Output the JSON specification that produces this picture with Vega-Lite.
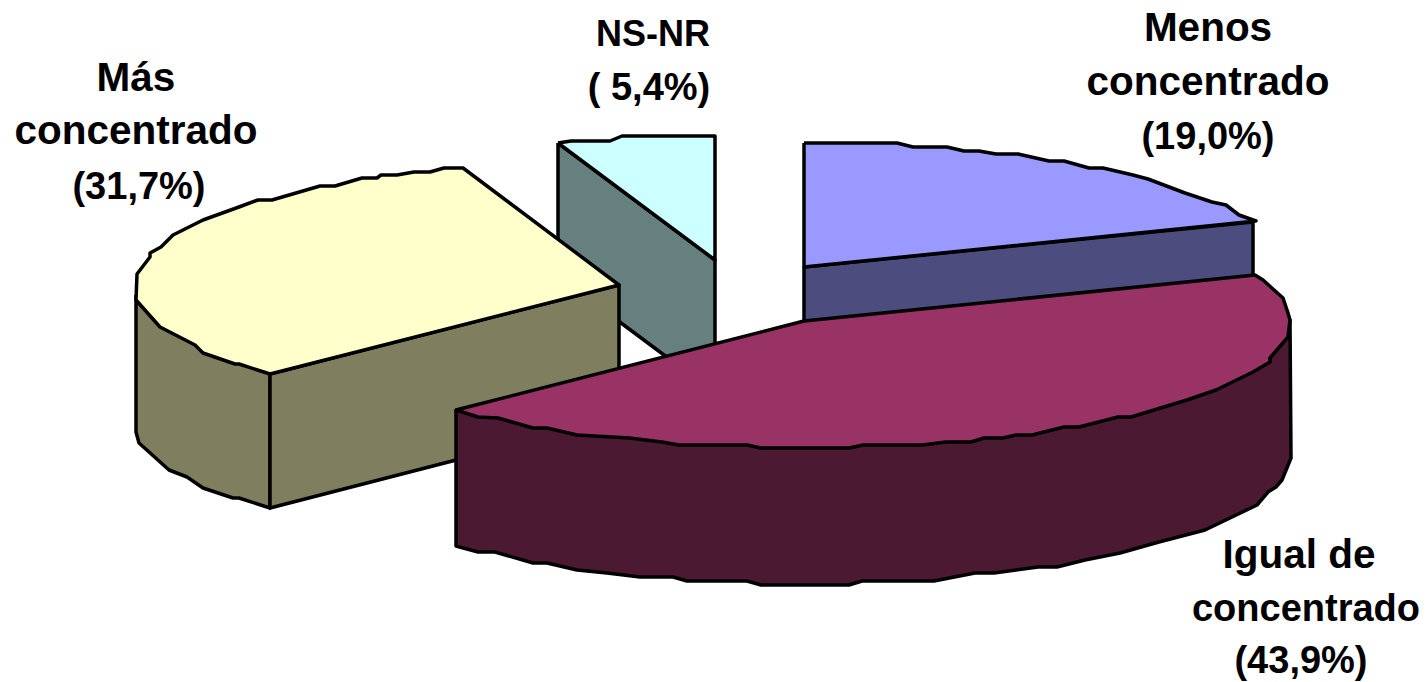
{"$schema":"https://vega.github.io/schema/vega-lite/v6.json","width":1426,"height":682,"autosize":{"type":"fit","contains":"padding"},"padding":0,"background":"white","view":{"stroke":null},
"datasets":{"outline":[
{"part":"NS-NR lado","n":1,"x":558,"y":143},{"part":"NS-NR lado","n":2,"x":715,"y":260},{"part":"NS-NR lado","n":3,"x":715,"y":393},{"part":"NS-NR lado","n":4,"x":558,"y":276},{"part":"NS-NR lado","n":5,"x":558,"y":143},
{"part":"NS-NR cara","n":1,"x":558,"y":143},{"part":"NS-NR cara","n":2,"x":571,"y":141},{"part":"NS-NR cara","n":3,"x":610,"y":141},{"part":"NS-NR cara","n":4,"x":622,"y":136},{"part":"NS-NR cara","n":5,"x":715,"y":136},{"part":"NS-NR cara","n":6,"x":715,"y":260},{"part":"NS-NR cara","n":7,"x":558,"y":143},
{"part":"Más lado curvo","n":1,"x":136,"y":295},{"part":"Más lado curvo","n":2,"x":136,"y":432},{"part":"Más lado curvo","n":3,"x":139,"y":443},{"part":"Más lado curvo","n":4,"x":169,"y":470},{"part":"Más lado curvo","n":5,"x":187,"y":477},{"part":"Más lado curvo","n":6,"x":203,"y":488},{"part":"Más lado curvo","n":7,"x":233,"y":498},{"part":"Más lado curvo","n":8,"x":239,"y":498},{"part":"Más lado curvo","n":9,"x":270,"y":508},{"part":"Más lado curvo","n":10,"x":270,"y":374},{"part":"Más lado curvo","n":11,"x":136,"y":295},
{"part":"Más lado plano","n":1,"x":270,"y":374},{"part":"Más lado plano","n":2,"x":619,"y":285},{"part":"Más lado plano","n":3,"x":619,"y":418},{"part":"Más lado plano","n":4,"x":270,"y":508},{"part":"Más lado plano","n":5,"x":270,"y":374},
{"part":"Más cara","n":1,"x":270,"y":374},{"part":"Más cara","n":2,"x":619,"y":285},{"part":"Más cara","n":3,"x":463,"y":168},{"part":"Más cara","n":4,"x":444,"y":168},{"part":"Más cara","n":5,"x":430,"y":172},{"part":"Más cara","n":6,"x":414,"y":172},{"part":"Más cara","n":7,"x":397,"y":175},{"part":"Más cara","n":8,"x":381,"y":175},{"part":"Más cara","n":9,"x":377,"y":178},{"part":"Más cara","n":10,"x":362,"y":178},{"part":"Más cara","n":11,"x":335,"y":186},{"part":"Más cara","n":12,"x":320,"y":186},{"part":"Más cara","n":13,"x":272,"y":200},{"part":"Más cara","n":14,"x":258,"y":200},{"part":"Más cara","n":15,"x":239,"y":207},{"part":"Más cara","n":16,"x":203,"y":220},{"part":"Más cara","n":17,"x":173,"y":235},{"part":"Más cara","n":18,"x":161,"y":247},{"part":"Más cara","n":19,"x":150,"y":253},{"part":"Más cara","n":20,"x":150,"y":257},{"part":"Más cara","n":21,"x":137,"y":274},{"part":"Más cara","n":22,"x":136,"y":300},{"part":"Más cara","n":23,"x":160,"y":327},{"part":"Más cara","n":24,"x":195,"y":345},{"part":"Más cara","n":25,"x":203,"y":353},{"part":"Más cara","n":26,"x":235,"y":364},{"part":"Más cara","n":27,"x":239,"y":364},{"part":"Más cara","n":28,"x":270,"y":374},
{"part":"Menos lado","n":1,"x":804,"y":267},{"part":"Menos lado","n":2,"x":1253,"y":222},{"part":"Menos lado","n":3,"x":1253,"y":278},{"part":"Menos lado","n":4,"x":804,"y":325},{"part":"Menos lado","n":5,"x":804,"y":267},
{"part":"Menos cara","n":1,"x":804,"y":143},{"part":"Menos cara","n":2,"x":897,"y":143},{"part":"Menos cara","n":3,"x":913,"y":147},{"part":"Menos cara","n":4,"x":947,"y":147},{"part":"Menos cara","n":5,"x":964,"y":151},{"part":"Menos cara","n":6,"x":979,"y":151},{"part":"Menos cara","n":7,"x":996,"y":154},{"part":"Menos cara","n":8,"x":1018,"y":154},{"part":"Menos cara","n":9,"x":1049,"y":161},{"part":"Menos cara","n":10,"x":1064,"y":161},{"part":"Menos cara","n":11,"x":1089,"y":168},{"part":"Menos cara","n":12,"x":1103,"y":168},{"part":"Menos cara","n":13,"x":1133,"y":175},{"part":"Menos cara","n":14,"x":1148,"y":179},{"part":"Menos cara","n":15,"x":1185,"y":193},{"part":"Menos cara","n":16,"x":1212,"y":202},{"part":"Menos cara","n":17,"x":1226,"y":205},{"part":"Menos cara","n":18,"x":1239,"y":215},{"part":"Menos cara","n":19,"x":1256,"y":221},{"part":"Menos cara","n":20,"x":804,"y":267},{"part":"Menos cara","n":21,"x":804,"y":143},
{"part":"Igual lado","n":1,"x":456,"y":410},{"part":"Igual lado","n":2,"x":1290,"y":320},{"part":"Igual lado","n":3,"x":1291,"y":458},{"part":"Igual lado","n":4,"x":1282,"y":480},{"part":"Igual lado","n":5,"x":1276,"y":487},{"part":"Igual lado","n":6,"x":1268,"y":492},{"part":"Igual lado","n":7,"x":1257,"y":505},{"part":"Igual lado","n":8,"x":1205,"y":530},{"part":"Igual lado","n":9,"x":1159,"y":542},{"part":"Igual lado","n":10,"x":1120,"y":553},{"part":"Igual lado","n":11,"x":1085,"y":560},{"part":"Igual lado","n":12,"x":1057,"y":567},{"part":"Igual lado","n":13,"x":1038,"y":567},{"part":"Igual lado","n":14,"x":994,"y":573},{"part":"Igual lado","n":15,"x":975,"y":573},{"part":"Igual lado","n":16,"x":934,"y":581},{"part":"Igual lado","n":17,"x":862,"y":581},{"part":"Igual lado","n":18,"x":849,"y":585},{"part":"Igual lado","n":19,"x":761,"y":585},{"part":"Igual lado","n":20,"x":747,"y":581},{"part":"Igual lado","n":21,"x":687,"y":581},{"part":"Igual lado","n":22,"x":673,"y":577},{"part":"Igual lado","n":23,"x":640,"y":577},{"part":"Igual lado","n":24,"x":607,"y":573},{"part":"Igual lado","n":25,"x":577,"y":570},{"part":"Igual lado","n":26,"x":547,"y":563},{"part":"Igual lado","n":27,"x":533,"y":563},{"part":"Igual lado","n":28,"x":495,"y":552},{"part":"Igual lado","n":29,"x":478,"y":552},{"part":"Igual lado","n":30,"x":456,"y":546},{"part":"Igual lado","n":31,"x":456,"y":410},
{"part":"Igual cara","n":1,"x":804,"y":321},{"part":"Igual cara","n":2,"x":1255,"y":275},{"part":"Igual cara","n":3,"x":1263,"y":280},{"part":"Igual cara","n":4,"x":1283,"y":298},{"part":"Igual cara","n":5,"x":1288,"y":313},{"part":"Igual cara","n":6,"x":1290,"y":320},{"part":"Igual cara","n":7,"x":1288,"y":337},{"part":"Igual cara","n":8,"x":1270,"y":358},{"part":"Igual cara","n":9,"x":1270,"y":362},{"part":"Igual cara","n":10,"x":1253,"y":372},{"part":"Igual cara","n":11,"x":1216,"y":390},{"part":"Igual cara","n":12,"x":1187,"y":400},{"part":"Igual cara","n":13,"x":1131,"y":417},{"part":"Igual cara","n":14,"x":1118,"y":417},{"part":"Igual cara","n":15,"x":1079,"y":427},{"part":"Igual cara","n":16,"x":1064,"y":427},{"part":"Igual cara","n":17,"x":1032,"y":435},{"part":"Igual cara","n":18,"x":1016,"y":435},{"part":"Igual cara","n":19,"x":1003,"y":438},{"part":"Igual cara","n":20,"x":984,"y":438},{"part":"Igual cara","n":21,"x":971,"y":442},{"part":"Igual cara","n":22,"x":946,"y":442},{"part":"Igual cara","n":23,"x":922,"y":445},{"part":"Igual cara","n":24,"x":863,"y":445},{"part":"Igual cara","n":25,"x":849,"y":448},{"part":"Igual cara","n":26,"x":761,"y":448},{"part":"Igual cara","n":27,"x":747,"y":445},{"part":"Igual cara","n":28,"x":679,"y":445},{"part":"Igual cara","n":29,"x":662,"y":442},{"part":"Igual cara","n":30,"x":629,"y":438},{"part":"Igual cara","n":31,"x":577,"y":435},{"part":"Igual cara","n":32,"x":547,"y":428},{"part":"Igual cara","n":33,"x":533,"y":428},{"part":"Igual cara","n":34,"x":498,"y":418},{"part":"Igual cara","n":35,"x":478,"y":417},{"part":"Igual cara","n":36,"x":456,"y":410},{"part":"Igual cara","n":37,"x":804,"y":321}
],
"labels":[
{"t":"Más","kind":"word","x":136,"y":79},{"t":"concentrado","kind":"word","x":136,"y":132},{"t":"(31,7%)","kind":"share","x":139,"y":188},
{"t":"NS-NR","kind":"short","x":653,"y":35},{"t":"( 5,4%)","kind":"share","x":649,"y":89},
{"t":"Menos","kind":"word","x":1208,"y":29},{"t":"concentrado","kind":"word","x":1208,"y":83},{"t":"(19,0%)","kind":"share","x":1208,"y":138},
{"t":"Igual de","kind":"word","x":1299,"y":556},{"t":"concentrado","kind":"share","x":1306,"y":610},{"t":"(43,9%)","kind":"share","x":1301,"y":662}
]},
"layer":[
{"data":{"name":"outline"},
"mark":{"type":"line","stroke":"#000000","strokeWidth":3.5,"strokeJoin":"round","clip":false},
"encoding":{
"x":{"field":"x","type":"quantitative","scale":{"domain":[0,1426],"nice":false,"zero":false},"axis":null},
"y":{"field":"y","type":"quantitative","scale":{"domain":[682,0],"nice":false,"zero":false},"axis":null},
"order":{"field":"n","type":"quantitative"},
"detail":{"field":"part"},
"fill":{"field":"part","type":"nominal","legend":null,"scale":{"domain":["NS-NR lado","NS-NR cara","Más lado curvo","Más lado plano","Más cara","Menos lado","Menos cara","Igual lado","Igual cara"],"range":["#667F7F","#CCFFFF","#7F7F60","#7F7F60","#FFFFCC","#4C4C7F","#9999FF","#4C1933","#993366"]}}
}},
{"data":{"name":"labels"},"transform":[{"filter":"datum.kind==='word'"}],
"mark":{"type":"text","font":"Liberation Sans","fontWeight":"bold","fontSize":40.5,"align":"center","baseline":"middle","color":"#000000"},
"encoding":{
"x":{"field":"x","type":"quantitative","scale":{"domain":[0,1426],"nice":false,"zero":false},"axis":null},
"y":{"field":"y","type":"quantitative","scale":{"domain":[682,0],"nice":false,"zero":false},"axis":null},
"text":{"field":"t"}
}},
{"data":{"name":"labels"},"transform":[{"filter":"datum.kind==='share'"}],
"mark":{"type":"text","font":"Liberation Sans","fontWeight":"bold","fontSize":38,"align":"center","baseline":"middle","color":"#000000"},
"encoding":{
"x":{"field":"x","type":"quantitative","scale":{"domain":[0,1426],"nice":false,"zero":false},"axis":null},
"y":{"field":"y","type":"quantitative","scale":{"domain":[682,0],"nice":false,"zero":false},"axis":null},
"text":{"field":"t"}
}},
{"data":{"name":"labels"},"transform":[{"filter":"datum.kind==='short'"}],
"mark":{"type":"text","font":"Liberation Sans","fontWeight":"bold","fontSize":36,"align":"center","baseline":"middle","color":"#000000"},
"encoding":{
"x":{"field":"x","type":"quantitative","scale":{"domain":[0,1426],"nice":false,"zero":false},"axis":null},
"y":{"field":"y","type":"quantitative","scale":{"domain":[682,0],"nice":false,"zero":false},"axis":null},
"text":{"field":"t"}
}}
]}
